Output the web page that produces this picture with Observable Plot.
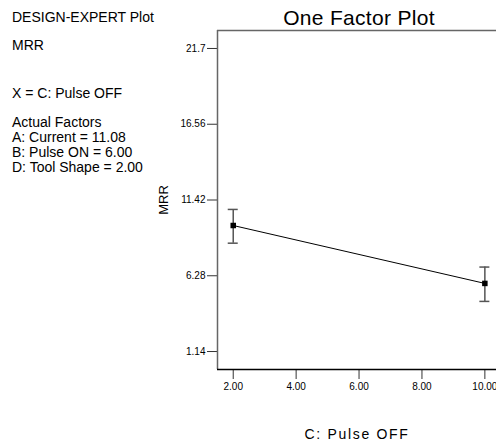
<!DOCTYPE html>
<html>
<head>
<meta charset="utf-8">
<script src="https://cdn.jsdelivr.net/npm/d3@7"></script>
<script src="https://cdn.jsdelivr.net/npm/@observablehq/plot@0.6"></script>
<style>
  html, body { margin: 0; padding: 0; background: #fff; }
  #wrap { position: relative; width: 496px; height: 443px; overflow: hidden; font-family: Arial, "Liberation Sans", sans-serif; color: #000; }
  .t { position: absolute; white-space: nowrap; line-height: 1; }
  svg { display: block; }
</style>
</head>
<body>
<div id="wrap"></div>
<script>
// ---- data ----
const pulseOff = [2, 10];
const mrrMean = [9.69, 5.76];
const mrrLow = [8.49, 4.54];
const mrrHigh = [10.78, 6.87];
const yTicks = [1.14, 6.28, 11.42, 16.56, 21.7];
const yTickLabels = ["1.14", "6.28", "11.42", "16.56", "21.7"];
const xTicks = [2, 4, 6, 8, 10];
const xTickLabels = ["2.00", "4.00", "6.00", "8.00", "10.00"];
const xDomain = [1.5, 10.37];
const yDomain = [-0.08, 22.92];
const infoLines = [
  {text: "DESIGN-EXPERT Plot", baseline: 21.5},
  {text: "MRR", baseline: 50},
  {text: "X = C: Pulse OFF", baseline: 98},
  {text: "Actual Factors", baseline: 126.5},
  {text: "A: Current = 11.08", baseline: 142},
  {text: "B: Pulse ON = 6.00", baseline: 157},
  {text: "D: Tool Shape = 2.00", baseline: 172}
];
const title = "One Factor Plot";
const xLabel = "C: Pulse OFF";
const yLabel = "MRR";

const data = pulseOff.map((x, i) => ({x, y: mrrMean[i], lo: mrrLow[i], hi: mrrHigh[i]}));

const chart = Plot.plot({
  width: 496,
  height: 443,
  marginLeft: 217,
  marginTop: 30,
  marginBottom: 74,
  marginRight: 0,
  style: {fontFamily: 'Arial, "Liberation Sans", sans-serif', fontSize: "10px", color: "#000", background: "#fff", overflow: "hidden"},
  x: {domain: xDomain, ticks: xTicks, tickFormat: (d, i) => xTickLabels[xTicks.indexOf(d)], label: null},
  y: {domain: yDomain, ticks: yTicks, tickFormat: (d) => yTickLabels[yTicks.indexOf(d)], label: null},
  marks: [
    Plot.axisX({ticks: xTicks, tickFormat: (d) => xTickLabels[xTicks.indexOf(d)], tickSize: 10, tickPadding: 3, stroke: "#333", fill: "#000", label: null}),
    Plot.axisY({ticks: yTicks, tickFormat: (d) => yTickLabels[yTicks.indexOf(d)], tickSize: 10, tickPadding: 2, stroke: "#333", fill: "#000", label: null}),
    Plot.ruleX([xDomain[0]], {stroke: "#666", strokeWidth: 1.5}),
    Plot.ruleY([yDomain[1]], {stroke: "#666", strokeWidth: 1.5}),
    Plot.ruleY([yDomain[0]], {stroke: "#000", strokeWidth: 1.5}),
    Plot.ruleX(data, {x: "x", y1: "lo", y2: "hi", stroke: "#555", strokeWidth: 1.5}),
    Plot.ruleY(data, {y: "hi", x1: "x", x2: "x", insetLeft: -5, insetRight: -5, stroke: "#555", strokeWidth: 1.5}),
    Plot.ruleY(data, {y: "lo", x1: "x", x2: "x", insetLeft: -5, insetRight: -5, stroke: "#555", strokeWidth: 1.5}),
    Plot.line(data, {x: "x", y: "y", stroke: "#000", strokeWidth: 1}),
    Plot.dot(data, {x: "x", y: "y", symbol: "square", r: 3.1, fill: "#000", stroke: "none"})
  ]
});

const wrap = document.getElementById("wrap");
wrap.appendChild(chart);

function addText(txt, css) {
  const d = document.createElement("div");
  d.className = "t";
  d.textContent = txt;
  Object.assign(d.style, css);
  wrap.appendChild(d);
  return d;
}
infoLines.forEach(l => addText(l.text, {left: "12px", top: (l.baseline - 11.85) + "px", fontSize: "14px"}));
addText(title, {left: "359px", top: "7px", fontSize: "21px", letterSpacing: "0.3px", transform: "translateX(-50%)"});
addText(xLabel, {left: "357px", top: "427px", fontSize: "14px", letterSpacing: "1.7px", transform: "translateX(-50%)"});
addText(yLabel, {left: "163px", top: "200px", fontSize: "13px", transform: "translate(-50%, -50%) rotate(-90deg)"});
</script>
</body>
</html>
